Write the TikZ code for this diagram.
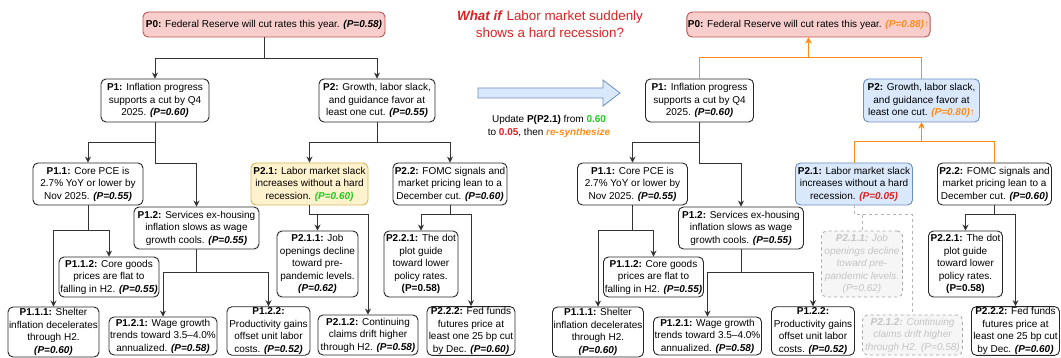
\documentclass[tikz,border=0pt]{standalone}
\usepackage{fontspec}
\setmainfont{Liberation Sans}
\usetikzlibrary{arrows.meta}

\definecolor{pinkfill}{HTML}{F8CECC}
\definecolor{pinkdraw}{HTML}{B85450}
\definecolor{yellowfill}{HTML}{FFF2CC}
\definecolor{yellowdraw}{HTML}{D6B656}
\definecolor{bluefill}{HTML}{DAE8FC}
\definecolor{bluedraw}{HTML}{6C8EBF}
\definecolor{titlered}{HTML}{D92323}
\definecolor{okgreen}{HTML}{1ECC1E}
\definecolor{updorange}{HTML}{FF8C1A}
\definecolor{ghosttext}{HTML}{C4C4C4}

\newcommand{\prob}[1]{\textbf{\textit{(P=#1)}}}

\begin{document}
\begin{tikzpicture}[x=1pt, y=-1pt, every node/.style={align=center, inner sep=1pt, font=\fontsize{10}{12.5}\selectfont},
    prop/.style={draw=black!85, line width=0.9pt, rounded corners=5pt, fill=white},
    ghost/.style={draw=gray!70, dashed, line width=0.8pt, rounded corners=5pt, fill=gray!7, text=ghosttext, font=\fontsize{10}{12.5}\selectfont\itshape},
    link/.style={draw=black!80, line width=0.9pt, -{Stealth[length=6pt,width=6pt]}},
    uplink/.style={draw=updorange, line width=0.9pt, -{Stealth[length=6pt,width=6pt]}},
    ghostlink/.style={draw=gray!60, dashed, line width=0.8pt}]
        \useasboundingbox (0,0) rectangle (1061,358);

        % before the update
        \node[prop, fill=pinkfill, draw=pinkdraw, minimum width=242pt, minimum height=25pt] (p0) at (264,24.5) {\textbf{P0:} Federal Reserve will cut rates this year. \prob{0.58}};
        \node[prop, minimum width=108pt, minimum height=43pt] (p1) at (155,100.5) {\textbf{P1:} Inflation progress\\supports a cut by Q4\\2025. \prob{0.60}};
        \node[prop, minimum width=116pt, minimum height=43pt] (p2) at (377,100.5) {\textbf{P2:} Growth, labor slack,\\and guidance favor at\\least one cut. \prob{0.55}};
        \node[prop, minimum width=110pt, minimum height=42pt] (p11) at (88,184) {\textbf{P1.1:} Core PCE is\\2.7\% YoY or lower by\\Nov 2025. \prob{0.55}};
        \node[prop, minimum width=125pt, minimum height=42pt] (p12) at (196.5,228) {\textbf{P1.2:} Services ex-housing\\inflation slows as wage\\growth cools. \prob{0.55}};
        \node[prop, fill=yellowfill, draw=yellowdraw, minimum width=117pt, minimum height=42pt] (p21) at (309.5,184) {\textbf{P2.1:} Labor market slack\\increases without a hard\\recession. {\color{okgreen}\prob{0.60}}};
        \node[prop, minimum width=114pt, minimum height=42pt] (p22) at (450,184) {\textbf{P2.2:} FOMC signals and\\market pricing lean to a\\December cut. \prob{0.60}};
        \node[prop, minimum width=100pt, minimum height=40pt] (p112) at (109,277) {\textbf{P1.1.2:} Core goods\\prices are flat to\\falling in H2. \prob{0.55}};
        \node[prop, minimum width=91pt, minimum height=50pt] (p111) at (53.5,332) {\textbf{P1.1.1:} Shelter\\inflation decelerates\\through H2.\\\prob{0.60}};
        \node[prop, minimum width=108pt, minimum height=38pt] (p121) at (163,336) {\textbf{P1.2.1:} Wage growth\\trends toward 3.5--4.0\%\\annualized. \prob{0.58}};
        \node[prop, minimum width=83pt, minimum height=48pt] (p122) at (268.5,331) {\textbf{P1.2.2:}\\Productivity gains\\offset unit labor\\costs. \prob{0.52}};
        \node[prop, minimum width=81pt, minimum height=66pt] (p211) at (317.5,264) {\textbf{P2.1.1:} Job\\openings decline\\toward pre-\\pandemic levels.\\\prob{0.62}};
        \node[prop, minimum width=100pt, minimum height=40pt] (p212) at (368,335) {\textbf{P2.1.2:} Continuing\\claims drift higher\\through H2. \prob{0.58}};
        \node[prop, minimum width=74pt, minimum height=66pt] (p221) at (421,264) {\textbf{P2.2.1:} The dot\\plot guide\\toward lower\\policy rates.\\\textbf{(P=0.58)}};
        \node[prop, minimum width=88pt, minimum height=48pt] (p222) at (471,331) {\textbf{P2.2.2:} Fed funds\\futures price at\\least one 25 bp cut\\by Dec. \prob{0.60}};

        \draw[link] (p0.south) -- ++(0,21) -| (p1.north);
        \draw[link] (p0.south) -- ++(0,21) -| (p2.north);
        \draw[link] (p1.south) -- ++(0,20) -| (p11.north);
        \draw[link] (p1.south) -- ++(0,41) -| (p12.north);
        \draw[link] (p2.south) -- ++(0,20) -| (p21.north);
        \draw[link] (p2.south) -- ++(0,20) -| (p22.north);
        \draw[link] (p11.south) -- ++(0,25) -| (p112.north);
        \draw[link] (p11.south) -- ++(0,25) -| (p111.north);
        \draw[link] (p12.south) -- ++(0,23) -| (p121.north);
        \draw[link] (p12.south) -- ++(0,23) -| (p122.north);
        \draw[link] (p21.south) -- ++(0,9) -| (p211.north);
        \draw[link] (p21.south) -- ++(0,9) -| (p212.north);
        \draw[link] (p22.south) -- ++(0,9) -| (p221.north);
        \draw[link] (p22.south) -- ++(0,9) -| (p222.north);

        % the what-if step
        \node[text=titlered, font=\fontsize{13.4}{17}\selectfont] (whatif) at (550,24.5) {\textbf{\textit{What if}} Labor market suddenly\\shows a hard recession?};
        \draw[fill=bluefill, draw=bluedraw, line width=0.8pt] (478,88) -- (603,88) -- (603,80) -- (620,93) -- (603,106) -- (603,98) -- (478,98) -- cycle;
        \node[font=\fontsize{10}{13}\selectfont] (update) at (549,126.5) {Update \textbf{P(P2.1)} from {\color{okgreen}\textbf{0.60}}\\to {\color{titlered}\textbf{0.05}}, then {\color{updorange}\textbf{\textit{re-synthesize}}}};

        % after the update
        \node[prop, fill=pinkfill, draw=pinkdraw, minimum width=242pt, minimum height=25pt] (r0) at (808.5,24.5) {\textbf{P0:} Federal Reserve will cut rates this year. {\color{updorange}\prob{0.88}↑}};
        \node[prop, minimum width=108pt, minimum height=43pt] (r1) at (699.5,100.5) {\textbf{P1:} Inflation progress\\supports a cut by Q4\\2025. \prob{0.60}};
        \node[prop, fill=bluefill, draw=bluedraw, minimum width=116pt, minimum height=43pt] (r2) at (921.5,100.5) {\textbf{P2:} Growth, labor slack,\\and guidance favor at\\least one cut. {\color{updorange}\prob{0.80}↑}};
        \node[prop, minimum width=110pt, minimum height=42pt] (r11) at (632.5,184) {\textbf{P1.1:} Core PCE is\\2.7\% YoY or lower by\\Nov 2025. \prob{0.55}};
        \node[prop, minimum width=125pt, minimum height=42pt] (r12) at (741,228) {\textbf{P1.2:} Services ex-housing\\inflation slows as wage\\growth cools. \prob{0.55}};
        \node[prop, fill=bluefill, draw=bluedraw, minimum width=117pt, minimum height=42pt] (r21) at (854,184) {\textbf{P2.1:} Labor market slack\\increases without a hard\\recession. {\color{titlered}\prob{0.05}}};
        \node[prop, minimum width=114pt, minimum height=42pt] (r22) at (994.5,184) {\textbf{P2.2:} FOMC signals and\\market pricing lean to a\\December cut. \prob{0.60}};
        \node[prop, minimum width=100pt, minimum height=40pt] (r112) at (653.5,277) {\textbf{P1.1.2:} Core goods\\prices are flat to\\falling in H2. \prob{0.55}};
        \node[prop, minimum width=91pt, minimum height=50pt] (r111) at (598,332) {\textbf{P1.1.1:} Shelter\\inflation decelerates\\through H2.\\\prob{0.60}};
        \node[prop, minimum width=108pt, minimum height=38pt] (r121) at (707.5,336) {\textbf{P1.2.1:} Wage growth\\trends toward 3.5--4.0\%\\annualized. \prob{0.58}};
        \node[prop, minimum width=83pt, minimum height=48pt] (r122) at (813,331) {\textbf{P1.2.2:}\\Productivity gains\\offset unit labor\\costs. \prob{0.52}};
        \node[ghost, minimum width=81pt, minimum height=66pt] (r211) at (862,264) {\textbf{P2.1.1:} Job\\openings decline\\toward pre-\\pandemic levels.\\(P=0.62)};
        \node[ghost, minimum width=100pt, minimum height=40pt] (r212) at (912.5,335) {\textbf{P2.1.2:} Continuing\\claims drift higher\\through H2. (P=0.58)};
        \node[prop, minimum width=74pt, minimum height=66pt] (r221) at (965.5,264) {\textbf{P2.2.1:} The dot\\plot guide\\toward lower\\policy rates.\\\textbf{(P=0.58)}};
        \node[prop, minimum width=88pt, minimum height=48pt] (r222) at (1015.5,331) {\textbf{P2.2.2:} Fed funds\\futures price at\\least one 25 bp cut\\by Dec. \prob{0.60}};

        \draw[uplink] (r1.north) -- ++(0,-21) -| (r0.south);
        \draw[uplink] (r2.north) -- ++(0,-21) -| (r0.south);
        \draw[uplink] (r21.north) -- ++(0,-21) -| (r2.south);
        \draw[uplink] (r22.north) -- ++(0,-21) -| (r2.south);
        \draw[link] (r1.south) -- ++(0,20) -| (r11.north);
        \draw[link] (r1.south) -- ++(0,41) -| (r12.north);
        \draw[link] (r11.south) -- ++(0,25) -| (r112.north);
        \draw[link] (r11.south) -- ++(0,25) -| (r111.north);
        \draw[link] (r12.south) -- ++(0,23) -| (r121.north);
        \draw[link] (r12.south) -- ++(0,23) -| (r122.north);
        \draw[ghostlink] (r21.south) -- ++(0,9) -| (r211.north);
        \draw[ghostlink] (r21.south) -- ++(0,9) -| (r212.north);
        \draw[link] (r22.south) -- ++(0,9) -| (r221.north);
        \draw[link] (r22.south) -- ++(0,9) -| (r222.north);
\end{tikzpicture}
\end{document}
